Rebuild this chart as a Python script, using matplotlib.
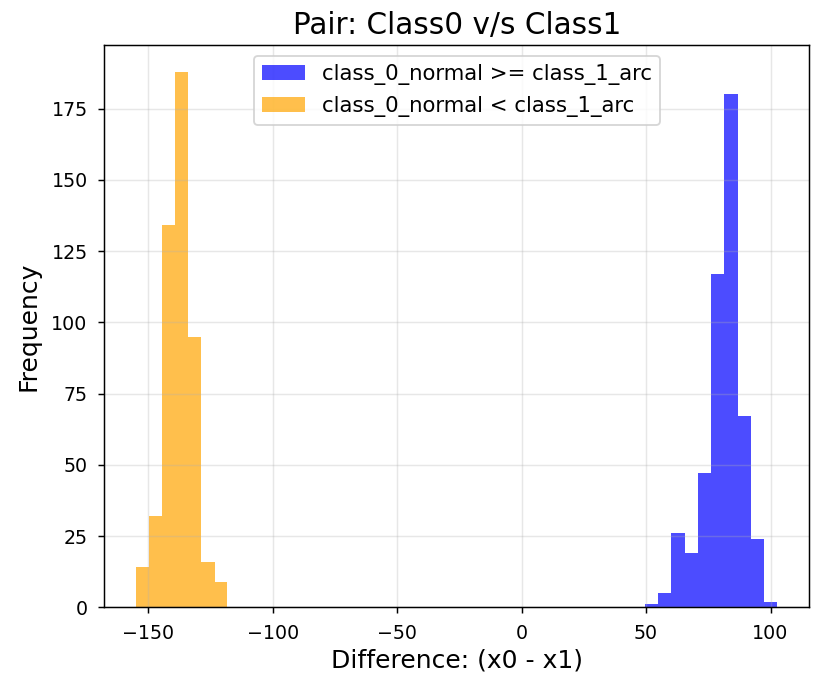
import matplotlib
matplotlib.use("Agg")
import matplotlib.pyplot as plt
import numpy as np

# histogram bins
above_edges = [49.6, 54.9, 60.2, 65.5, 70.8, 76.2, 81.5, 86.8, 92.1, 97.4, 102.7]
above_counts = [1, 5, 26, 19, 47, 117, 180, 67, 24, 2]

below_edges = [-154.8, -149.6, -144.4, -139.1, -133.9, -128.7, -123.4, -118.2]
below_counts = [14, 32, 134, 188, 95, 16, 9]

label_above = "class_0_normal >= class_1_arc"
label_below = "class_0_normal < class_1_arc"

dpi = 133
fig, ax = plt.subplots(figsize=(815 / dpi, 680 / dpi), dpi=dpi)

ax.hist(above_edges[:-1], bins=above_edges, weights=above_counts,
        color="blue", alpha=0.7, label=label_above)
ax.hist(below_edges[:-1], bins=below_edges, weights=below_counts,
        color="orange", alpha=0.7, label=label_below)

ax.set_title("Pair: Class0 v/s Class1", fontsize=16)
ax.set_xlabel("Difference: (x0 - x1)", fontsize=13.5, labelpad=3)
ax.set_ylabel("Frequency", fontsize=13.5, labelpad=6)
ax.tick_params(labelsize=10.3, pad=5.5)
ax.grid(True, alpha=0.3)
ax.legend(loc="upper center", fontsize=11.5)

fig.subplots_adjust(left=0.128, right=0.993, top=0.934, bottom=0.107)
fig.savefig("out.png", dpi=dpi)
